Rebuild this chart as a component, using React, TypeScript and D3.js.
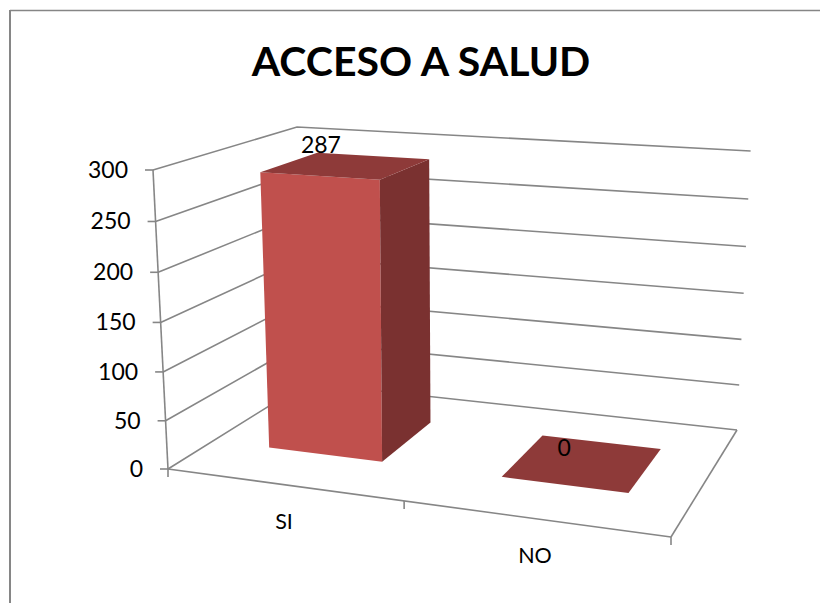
import * as d3 from "d3";

// Chart content
const chartTitle = "ACCESO A SALUD";
const categories = ["SI", "NO"];
const values = [287, 0];
const valueTicks = [0, 50, 100, 150, 200, 250, 300];

// Corners of the 3D plot box on screen
type Pt = [number, number];
const floorQuad: Pt[] = [[168, 469], [671, 537], [737, 430], [306, 383]];
const ceilingQuad: Pt[] = [[153, 170], [689, 205], [750.6, 151], [297, 127]];

// Unit square to quadrilateral projective map
function quadMap(q: Pt[]) {
  const [[x0, y0], [x1, y1], [x2, y2], [x3, y3]] = q;
  const dx1 = x1 - x2, dx2 = x3 - x2, sx = x0 - x1 + x2 - x3;
  const dy1 = y1 - y2, dy2 = y3 - y2, sy = y0 - y1 + y2 - y3;
  const det = dx1 * dy2 - dx2 * dy1;
  const g = (sx * dy2 - dx2 * sy) / det;
  const h = (dx1 * sy - sx * dy1) / det;
  const a = x1 - x0 + g * x1, b = x3 - x0 + h * x3;
  const d = y1 - y0 + g * y1, e = y3 - y0 + h * y3;
  return (u: number, w: number): Pt => {
    const k = g * u + h * w + 1;
    return [(a * u + b * w + x0) / k, (d * u + e * w + y0) / k];
  };
}

const onFloor = quadMap(floorQuad);
const onCeiling = quadMap(ceilingQuad);
const heightScale = d3.scaleLinear().domain([0, 300]).range([0, 1]);
const xBand = d3.scaleBand<string>().domain(categories).range([0.003, 1.003]).paddingInner(0.5).paddingOuter(0.25);
const depthScale = d3.scaleLinear().domain([0, 1]).range([0.295, 0.72]);

// Vertical foreshortening: equal value steps shrink slightly towards the floor
const rise = (s: number) => s / (1 + 0.04 * (1 - s));

function project(u: number, w: number, value: number): Pt {
  const t = rise(heightScale(value));
  const a = onFloor(u, w);
  const b = onCeiling(u, w);
  return [a[0] + (b[0] - a[0]) * t, a[1] + (b[1] - a[1]) * t];
}

const poly = (pts: Pt[]) => (d3.line()(pts) ?? "") + "Z";
const seg = (a: Pt, b: Pt) => d3.line()([a, b]) ?? "";

const GRID = "#868686";
const FONT = "Lato, Carlito, Calibri, sans-serif";
const FRONT = "#C0504D";
const SIDE = "#7A3130";
const TOP = "#8E3A39";

// Nudges of the value labels away from the centre of each bar's top face
const labelNudge: Pt[] = [[-26, -21], [-19, -15]];

export default function App() {
  const bars = categories.map((c, i) => {
    const u0 = xBand(c) as number;
    const u1 = u0 + xBand.bandwidth();
    const w0 = depthScale(0);
    const w1 = depthScale(1);
    const v = values[i];
    const centre = project((u0 + u1) / 2, (w0 + w1) / 2, v);
    return {
      key: c,
      value: v,
      front: [project(u0, w0, 0), project(u1, w0, 0), project(u1, w0, v), project(u0, w0, v)],
      side: [project(u1, w0, 0), project(u1, w1, 0), project(u1, w1, v), project(u1, w0, v)],
      top: [project(u0, w0, v), project(u1, w0, v), project(u1, w1, v), project(u0, w1, v)],
      label: [centre[0] + labelNudge[i][0], centre[1] + labelNudge[i][1]] as Pt,
    };
  });

  return (
    <svg width={820} height={603} style={{ position: "fixed", left: 0, top: 0, background: "#fff" }}>
      {/* chart frame: only the top and left edges fall inside the view */}
      <line x1={10} y1={10.5} x2={820} y2={10.5} stroke={GRID} strokeWidth={1.5} />
      <line x1={10} y1={10} x2={10} y2={603} stroke={GRID} strokeWidth={2} />

      <text x={421} y={76} textAnchor="middle" fontFamily={FONT} fontWeight={700} fontSize={41} fill="#000">
        {chartTitle}
      </text>

      {/* wall gridlines */}
      <g fill="none" stroke={GRID} strokeWidth={1.6}>
        {valueTicks.map((t) => (
          <path key={t} d={`M${project(0, 0, t).join(",")}L${project(0, 1, t).join(",")}L${project(1, 1, t).join(",")}`} />
        ))}
        <path d={seg(project(0, 0, 0), project(0, 0, 300))} />
        <path d={seg(project(1, 0, 0), project(1, 1, 0))} />
        <path d={seg(project(0, 0, 0), project(1, 0, 0))} />
        {/* value axis ticks */}
        {valueTicks.map((t) => {
          const p = project(0, 0, t);
          return <path key={t} d={seg([p[0] - 8, p[1]], p)} />;
        })}
        {/* category axis ticks */}
        {[0, 0.5, 1].map((u) => {
          const p = onFloor(u, 0);
          return <path key={u} d={seg(p, [p[0], p[1] + 8])} />;
        })}
      </g>

      {valueTicks.map((t) => {
        const p = project(0, 0, t);
        return (
          <text key={t} x={p[0] - 25} y={p[1] + 8} textAnchor="end" fontFamily={FONT} fontSize={23} fill="#000">
            {t}
          </text>
        );
      })}

      {bars.map((b) => (
        <g key={b.key}>
          {b.value > 0 && <path d={poly(b.front)} fill={FRONT} />}
          {b.value > 0 && <path d={poly(b.side)} fill={SIDE} />}
          <path d={poly(b.top)} fill={TOP} />
        </g>
      ))}

      {categories.map((c) => {
        const u = (xBand(c) as number) + xBand.bandwidth() / 2;
        const p = onFloor(u, 0);
        return (
          <text key={c} x={p[0]} y={p[1] + 44} textAnchor="middle" fontFamily={FONT} fontSize={21.5} fill="#000">
            {c}
          </text>
        );
      })}

      {bars.map((b) => (
        <text key={b.key} x={b.label[0]} y={b.label[1] + 8} textAnchor="middle" fontFamily={FONT} fontSize={23} fill="#000">
          {b.value}
        </text>
      ))}
    </svg>
  );
}
